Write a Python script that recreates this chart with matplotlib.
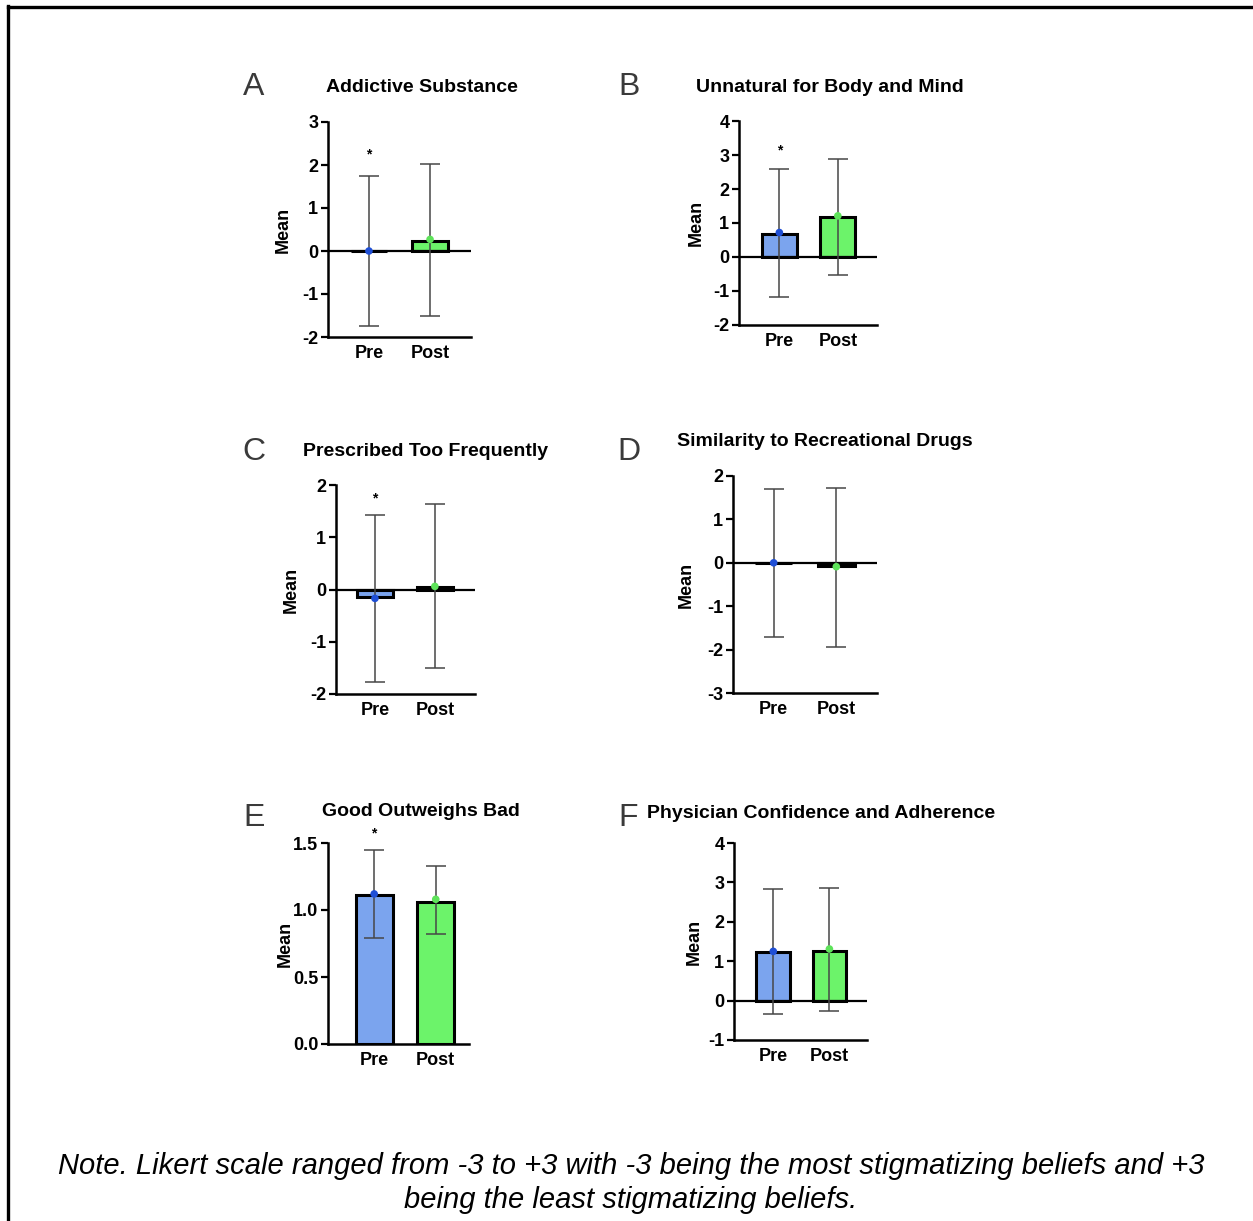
import matplotlib
matplotlib.use("Agg")
import matplotlib.pyplot as plt
from matplotlib.lines import Line2D
import numpy as np

plt.rcParams["font.family"] = ["Liberation Sans", "DejaVu Sans"]

# data
GROUPS = ["Pre", "Post"]
LETTERS = ["A", "B", "C", "D", "E", "F"]
TITLES = ["Addictive Substance", "Unnatural for Body and Mind",
          "Prescribed Too Frequently", "Similarity to Recreational Drugs",
          "Good Outweighs Bad", "Physician Confidence and Adherence"]
BAR_MEAN = [[0.0, 0.24], [0.69, 1.18], [-0.15, 0.05],
            [0.0, -0.08], [1.11, 1.06], [1.23, 1.27]]
POINT_MEAN = [[0.0, 0.27], [0.72, 1.21], [-0.17, 0.06],
              [0.0, -0.09], [1.12, 1.08], [1.25, 1.31]]
ERR_TOP = [[1.75, 2.03], [2.60, 2.89], [1.42, 1.63],
           [1.69, 1.73], [1.45, 1.33], [2.84, 2.87]]
ERR_BOTTOM = [[-1.75, -1.51], [-1.18, -0.52], [-1.77, -1.51],
              [-1.72, -1.93], [0.79, 0.82], [-0.34, -0.27]]
STAR_Y = [2.24, 3.14, 1.74, None, 1.57, None]
YLIMS = [(-2, 3), (-2, 4), (-2, 2), (-3, 2), (0, 1.5), (-1, 4)]
YSTEP = [1, 1, 1, 1, 0.5, 1]
NOTE = ("Note. Likert scale ranged from -3 to +3 with -3 being the most stigmatizing beliefs and +3\n"
        "being the least stigmatizing beliefs.")

BAR_COLORS = ["#7BA4EE", "#6CF36A"]
DOT_COLORS = ["#1F4FD6", "#5EE35A"]

W, H = 1253, 1221
# axes boxes in pixels: left, right, top, bottom
BOXES = [(328, 471, 122, 337), (739, 877, 121, 325),
         (336, 475, 485, 694), (733, 877, 476, 693),
         (328, 469, 843, 1044), (734, 867, 843, 1040)]
XLIMS = [(-0.67, 1.67), (-0.69, 1.67), (-0.65, 1.67),
         (-0.65, 1.65), (-0.75, 1.54), (-0.70, 1.67)]
YLABEL_X = [285, 698, 293, 688, 287, 696]   # centre of the rotated "Mean"
TITLE_POS = [(422, 88), (830, 87), (426, 452), (825, 442), (421, 811), (821, 813)]
LETTER_POS = [(254, 87), (629, 87), (254, 452), (629, 452), (254, 818), (628, 818)]

fig = plt.figure(figsize=(W / 100, H / 100), dpi=100)


def fx(px):
    return px / W


def fy(py):
    return 1 - py / H


for i in range(6):
    l, r, t, b = BOXES[i]
    ax = fig.add_axes([fx(l), fy(b), fx(r) - fx(l), fy(t) - fy(b)])
    x = np.arange(len(GROUPS))
    ax.bar(x, BAR_MEAN[i], width=0.6, color=BAR_COLORS, edgecolor="black",
           linewidth=2.2, zorder=2)
    lo, hi = YLIMS[i]
    if lo < 0:
        ax.axhline(0, color="black", lw=1.6, zorder=3)
    pts = np.array(POINT_MEAN[i])
    yerr = [pts - np.array(ERR_BOTTOM[i]), np.array(ERR_TOP[i]) - pts]
    ax.errorbar(x, pts, yerr=yerr, fmt="none", ecolor="#474747", elinewidth=1.1,
                capsize=7.5, capthick=1.1, zorder=4)
    ax.scatter(x, pts, s=30, c=DOT_COLORS, zorder=5, linewidths=0)
    if STAR_Y[i] is not None:
        ax.text(0, STAR_Y[i], "*", ha="center", va="center", fontsize=10,
                fontweight="bold")

    ax.set_xlim(*XLIMS[i])
    ax.set_ylim(lo, hi)
    ticks = np.arange(lo, hi + 1e-9, YSTEP[i])
    ax.set_yticks(ticks)
    if YSTEP[i] < 1:
        ax.set_yticklabels([f"{v:.1f}" for v in ticks])
    else:
        ax.set_yticklabels([f"{int(v)}" for v in ticks])
    ax.set_xticks(x)
    ax.set_xticklabels(GROUPS)
    ax.tick_params(axis="x", length=0, pad=6, labelsize=13)
    ax.tick_params(axis="y", length=5, width=1.6, pad=2, labelsize=13)
    for lab in ax.get_xticklabels() + ax.get_yticklabels():
        lab.set_fontweight("bold")
    ax.set_ylabel("Mean", fontsize=13, fontweight="bold")
    # label anchor is the text's right edge; shift so its centre sits at YLABEL_X
    ax.yaxis.set_label_coords(-(l - YLABEL_X[i] - 7) / (r - l), 0.5)
    for s in ("top", "right"):
        ax.spines[s].set_visible(False)
    for s in ("left", "bottom"):
        ax.spines[s].set_linewidth(1.8)
    ax.patch.set_alpha(0)

    tx, ty = TITLE_POS[i]
    fig.text(fx(tx), fy(ty), TITLES[i], ha="center", va="center",
             fontsize=14, fontweight="bold")
    lx, ly = LETTER_POS[i]
    fig.text(fx(lx), fy(ly), LETTERS[i], ha="center", va="center",
             fontsize=23, color="#3a3a3a")

fig.text(fx(631), fy(1183), NOTE, ha="center", va="center", fontsize=21,
         style="italic", linespacing=1.3)

# page frame (left and top edges only)
fig.add_artist(Line2D([fx(8), fx(8)], [fy(6), 0], color="black", lw=2.4,
                      transform=fig.transFigure))
fig.add_artist(Line2D([fx(8), 1], [fy(7), fy(7)], color="black", lw=2.4,
                      transform=fig.transFigure))

fig.savefig("out.png", dpi=100)
